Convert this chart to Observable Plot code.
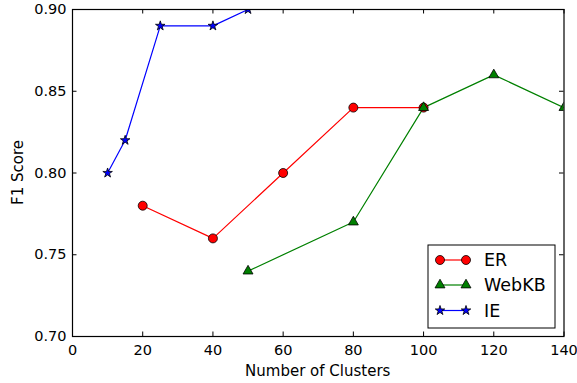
<!DOCTYPE html>
<html>
<head>
<meta charset="utf-8">
<script src="https://cdn.jsdelivr.net/npm/d3@7"></script>
<script src="https://cdn.jsdelivr.net/npm/@observablehq/plot@0.6"></script>
<style>
  html, body { margin: 0; padding: 0; background: #fff; }
  #chart { width: 577px; height: 383px; }
</style>
</head>
<body>
<div id="chart"></div>
<script>
// Data
const erClusters = [20, 40, 60, 80, 100];
const erScores = [0.78, 0.76, 0.80, 0.84, 0.84];
const webkbClusters = [50, 80, 100, 120, 140];
const webkbScores = [0.74, 0.77, 0.84, 0.86, 0.84];
const ieClusters = [10, 15, 25, 40, 50];
const ieScores = [0.80, 0.82, 0.89, 0.89, 0.90];
const xTicks = [0, 20, 40, 60, 80, 100, 120, 140];
const yTicks = [0.70, 0.75, 0.80, 0.85, 0.90];
const seriesNames = ["ER", "WebKB", "IE"];
const seriesColors = ["#ff0000", "#008000", "#0000ff"];
const seriesSymbols = ["circle", "triangle", "star"];

const toRows = (xs, ys) => xs.map((x, i) => ({x, y: ys[i]}));
const series = [
  toRows(erClusters, erScores),
  toRows(webkbClusters, webkbScores),
  toRows(ieClusters, ieScores)
];
const symbolSizes = [4.5, 3.7, 3.0];

const W = 577, H = 383;
const mL = 72, mR = 13.5, mT = 9, mB = 47;
const innerH = H - mT - mB;
const innerW = W - mL - mR;
const tickLen = 4.5;

const marks = [];
series.forEach((rows, i) => {
  marks.push(Plot.line(rows, {x: "x", y: "y", stroke: seriesColors[i], strokeWidth: 1.2, clip: true}));
});
series.forEach((rows, i) => {
  marks.push(Plot.dot(rows, {x: "x", y: "y", r: symbolSizes[i], symbol: seriesSymbols[i], fill: seriesColors[i], stroke: "black", strokeWidth: 0.8, clip: true}));
});
// inward ticks on all four sides
marks.push(Plot.tickX(xTicks, {x: d => d, insetTop: innerH - tickLen, stroke: "black", strokeWidth: 1}));
marks.push(Plot.tickX(xTicks, {x: d => d, insetBottom: innerH - tickLen, stroke: "black", strokeWidth: 1}));
marks.push(Plot.tickY(yTicks, {y: d => d, insetRight: innerW - tickLen, stroke: "black", strokeWidth: 1}));
marks.push(Plot.tickY(yTicks, {y: d => d, insetLeft: innerW - tickLen, stroke: "black", strokeWidth: 1}));
marks.push(Plot.frame({stroke: "black", strokeWidth: 1.2}));
marks.push(Plot.axisX(xTicks, {tickSize: 0, tickPadding: 8, fontSize: 14.5, tickFormat: d => String(d), label: null, fill: "black"}));
marks.push(Plot.axisY(yTicks, {tickSize: 0, tickPadding: 6, fontSize: 14.5, tickFormat: d => d.toFixed(2), label: null, fill: "black"}));

const chart = Plot.plot({
  width: W,
  height: H,
  marginLeft: mL,
  marginRight: mR,
  marginTop: mT,
  marginBottom: mB,
  style: {fontFamily: "'DejaVu Sans', sans-serif", background: "white", color: "black"},
  x: {domain: [0, 140]},
  y: {domain: [0.70, 0.90]},
  marks
});
document.getElementById("chart").appendChild(chart);

// Axis titles and legend, added to the same SVG
const svg = d3.select(chart);
svg.append("text")
  .attr("x", mL + innerW / 2).attr("y", 376)
  .attr("text-anchor", "middle")
  .style("font-size", "15px").style("font-family", "'DejaVu Sans', sans-serif")
  .attr("fill", "black")
  .text("Number of Clusters");
svg.append("text")
  .attr("transform", `translate(23,${mT + innerH / 2}) rotate(-90)`)
  .attr("text-anchor", "middle")
  .style("font-size", "15px").style("font-family", "'DejaVu Sans', sans-serif")
  .attr("fill", "black")
  .text("F1 Score");

const lg = svg.append("g");
lg.append("rect")
  .attr("x", 428).attr("y", 245).attr("width", 127).attr("height", 83)
  .attr("fill", "white").attr("stroke", "black").attr("stroke-width", 1);
const rowY = [260, 285, 310.5];
const d3Symbols = {circle: d3.symbolCircle, triangle: d3.symbolTriangle, star: d3.symbolStar};
seriesNames.forEach((name, i) => {
  const y = rowY[i];
  lg.append("line").attr("x1", 440).attr("x2", 466).attr("y1", y).attr("y2", y)
    .attr("stroke", seriesColors[i]).attr("stroke-width", 1.2);
  const sym = d3.symbol(d3Symbols[seriesSymbols[i]], Math.PI * symbolSizes[i] * symbolSizes[i]);
  [440, 466].forEach(x => {
    lg.append("path").attr("d", sym()).attr("transform", `translate(${x},${y})`)
      .attr("fill", seriesColors[i]).attr("stroke", "black").attr("stroke-width", 0.8);
  });
  lg.append("text").attr("x", 484).attr("y", y).attr("dy", "0.36em")
    .attr("text-anchor", "start")
    .style("font-size", "17.5px").style("font-family", "'DejaVu Sans', sans-serif")
    .attr("fill", "black")
    .text(name);
});
</script>
</body>
</html>
